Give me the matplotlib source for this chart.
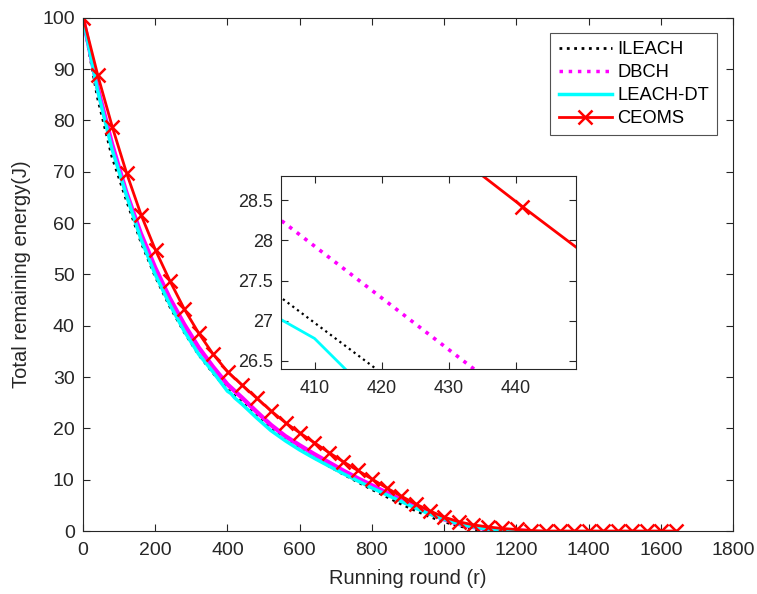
import matplotlib
matplotlib.use("Agg")
import matplotlib.pyplot as plt
from matplotlib.lines import Line2D

plt.rcParams['font.family'] = ['Liberation Sans', 'DejaVu Sans']

# ---------------- data ----------------
ileach_r = [0, 40, 80, 120, 160, 200, 240, 280, 320, 360, 400, 440, 480, 520, 560, 600,
            640, 680, 720, 760, 800, 840, 880, 920, 960, 1000, 1040, 1080, 1110]
ileach_e = [100, 84.5, 73.0, 64.5, 56.4, 49.6, 43.8, 38.8, 34.4, 30.8, 27.6, 25.1, 22.5, 20.0,
            17.9, 16.0, 14.3, 12.7, 11.1, 9.6, 8.1, 6.7, 5.3, 4.0, 2.8, 1.8, 1.0, 0.4, 0.0]

dbch_r = [0, 40, 80, 120, 160, 200, 240, 280, 320, 360, 400, 440, 480, 520, 560, 600,
          640, 680, 720, 760, 800, 840, 880, 920, 960, 1000, 1040, 1080, 1120, 1160, 1200, 1230]
dbch_e = [100, 86.5, 75.5, 66.0, 58.0, 51.3, 45.4, 40.3, 35.8, 32.0, 28.57, 26.0, 23.3, 20.7,
          18.5, 16.7, 15.0, 13.4, 11.8, 10.3, 8.9, 7.5, 6.1, 4.8, 3.5, 2.3, 1.4, 0.8, 0.4, 0.2,
          0.1, 0.0]

leachdt_r = [0, 40, 80, 120, 160, 200, 240, 280, 320, 360, 400, 410, 420, 440, 480, 520, 560,
             600, 640, 680, 720, 760, 800, 840, 880, 920, 960, 1000, 1040, 1080, 1120, 1160, 1205]
leachdt_e = [100, 86.0, 74.5, 65.5, 57.0, 50.0, 44.2, 39.0, 34.5, 31.0, 27.25, 26.78, 25.95,
             24.75, 22.1, 19.6, 17.6, 15.8, 14.2, 12.7, 11.2, 9.8, 8.4, 7.1, 5.8, 4.5, 3.3, 2.3,
             1.4, 0.8, 0.4, 0.15, 0.0]

ceoms_r = [1 + 40 * i for i in range(42)]
ceoms_e = [100, 88.8, 78.8, 69.7, 61.6, 54.7, 48.7, 43.2, 38.5, 34.4, 31.0, 28.42, 25.9, 23.4,
           21.1, 19.1, 17.2, 15.3, 13.5, 11.8, 10.1, 8.4, 6.8, 5.3, 3.9, 2.7, 1.8, 1.2, 0.8,
           0.5, 0.3, 0.1, 0, 0, 0, 0, 0, 0, 0, 0, 0, 0]

labels = ['ILEACH', 'DBCH', 'LEACH-DT', 'CEOMS']
xticks = list(range(0, 1801, 200))
yticks = list(range(0, 101, 10))
inset_xticks = [410, 420, 430, 440]
inset_yticks = [26.5, 27, 27.5, 28, 28.5]

AX = '#262626'

fig = plt.figure(figsize=(7.57, 5.94), dpi=100)
ax = fig.add_axes([0.1096, 0.106, 0.8587, 0.864])


def style(a, fs, padx, pady):
    for s in a.spines.values():
        s.set_color(AX)
        s.set_linewidth(0.8)
    a.tick_params(direction='in', colors=AX, labelsize=fs, length=5, width=0.8,
                  top=True, right=True, labeltop=False, labelright=False)
    a.tick_params(axis='x', pad=padx)
    a.tick_params(axis='y', pad=pady)


def draw(a, main):
    a.plot(ileach_r, ileach_e, color='black', ls=':', lw=2.0 if main else 1.6)
    if main:
        a.plot(dbch_r, dbch_e, color='magenta', ls='-', lw=3.2)
    else:
        a.plot(dbch_r, dbch_e, color='magenta', ls=':', lw=2.6)
    a.plot(leachdt_r, leachdt_e, color='cyan', ls='-', lw=2.5 if main else 2.0)
    a.plot(ceoms_r, ceoms_e, color='red', ls='-', lw=2.0, marker='x', ms=10, mew=1.8)


draw(ax, True)
ax.set_xlim(0, 1800)
ax.set_ylim(0, 100)
ax.set_xticks(xticks)
ax.set_yticks(yticks)
style(ax, 14, 8, 6)
ax.set_xlabel('Running round (r)', fontsize=14.5, color=AX, labelpad=7)
ax.set_ylabel('Total remaining energy(J)', fontsize=14.5, color=AX, labelpad=8)

handles = [
    Line2D([], [], color='black', ls=':', lw=2.0),
    Line2D([], [], color='magenta', ls=':', lw=2.5),
    Line2D([], [], color='cyan', ls='-', lw=2.5),
    Line2D([], [], color='red', ls='-', lw=2.0, marker='x', ms=10, mew=1.8),
]
leg = ax.legend(handles, labels, loc='upper right', bbox_to_anchor=(0.976, 0.971),
                fontsize=13.2, frameon=True, fancybox=False, edgecolor=AX,
                handlelength=2.9, handletextpad=0.3, labelspacing=0.33, borderpad=0.45,
                borderaxespad=0.0)
leg.get_frame().set_linewidth(0.8)
for t in leg.get_texts():
    t.set_color('black')

ins = fig.add_axes([0.3712, 0.3788, 0.3897, 0.3249])
ins.set_facecolor('white')
draw(ins, False)
ins.set_xlim(405, 449)
ins.set_ylim(26.4, 28.8)
ins.set_xticks(inset_xticks)
ins.set_yticks(inset_yticks)
ins.set_yticklabels(['26.5', '27', '27.5', '28', '28.5'])
style(ins, 13, 8, 6)

fig.savefig('out.png', dpi=100)
